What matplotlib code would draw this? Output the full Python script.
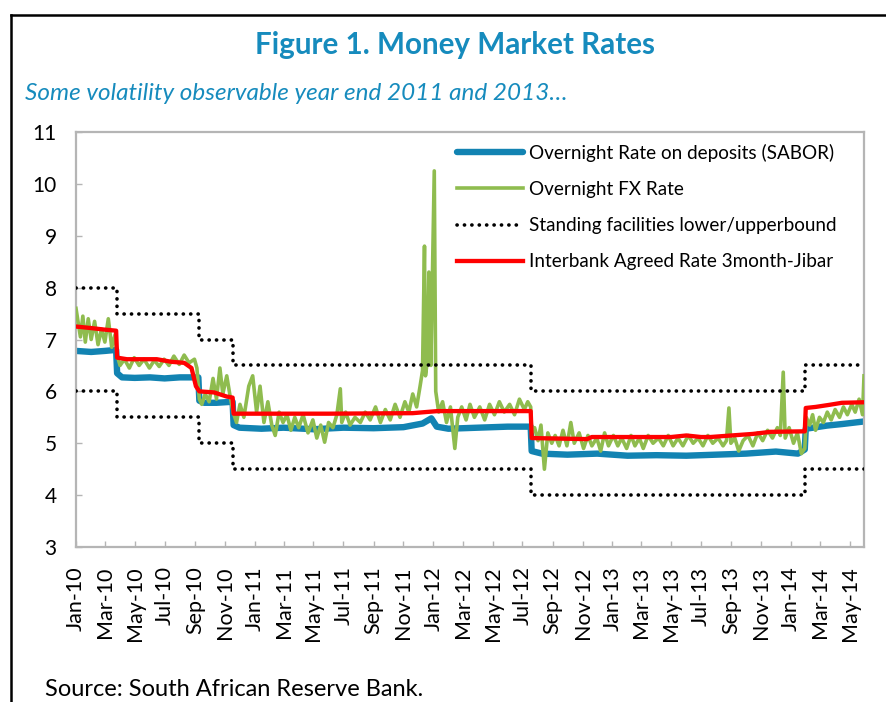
import pandas as pd
import matplotlib
matplotlib.use("Agg")
import matplotlib.pyplot as plt
import matplotlib.dates as mdates
from matplotlib.lines import Line2D

plt.rcParams["font.family"] = ["Lato", "DejaVu Sans"]

colours = {
    "sabor": "#1283b2",
    "fx": "#8fbc4f",
    "bound": "#000000",
    "jibar": "#ff0000",
    "title": "#168bbd",
    "axis": "#b5b5b5",
}

# overnight rate on deposits (SABOR)
sabor_dates = [
    "2010-01-01", "2010-02-01", "2010-03-01", "2010-03-24", "2010-03-26", "2010-04-05",
    "2010-05-01", "2010-06-01", "2010-07-01", "2010-08-01", "2010-09-08", "2010-09-10",
    "2010-09-20", "2010-10-15", "2010-11-17", "2010-11-19", "2010-12-01", "2011-01-15",
    "2011-03-01", "2011-05-01", "2011-07-01", "2011-09-01", "2011-11-01", "2011-12-10",
    "2011-12-28", "2012-01-08", "2012-02-01", "2012-04-01", "2012-06-01", "2012-07-18",
    "2012-07-20", "2012-08-10", "2012-10-01", "2012-12-01", "2013-02-01", "2013-04-01",
    "2013-06-01", "2013-08-01", "2013-10-01", "2013-12-01", "2014-01-15", "2014-01-29",
    "2014-01-31", "2014-02-15", "2014-03-15", "2014-04-15", "2014-05-30",
]
sabor_vals = [
    6.78, 6.76, 6.78, 6.80, 6.35, 6.27,
    6.26, 6.27, 6.25, 6.27, 6.27, 5.82,
    5.78, 5.78, 5.80, 5.35, 5.30, 5.28,
    5.30, 5.27, 5.30, 5.29, 5.31, 5.38,
    5.48, 5.32, 5.28, 5.30, 5.32, 5.32,
    4.85, 4.80, 4.78, 4.80, 4.76, 4.77,
    4.76, 4.78, 4.80, 4.84, 4.80, 4.88,
    5.28, 5.30, 5.34, 5.37, 5.42,
]

# overnight FX rate
fx_dates = [
    "2010-01-01", "2010-01-10", "2010-01-15", "2010-01-20", "2010-01-26", "2010-02-01",
    "2010-02-08", "2010-02-15", "2010-02-22", "2010-03-01", "2010-03-08", "2010-03-15",
    "2010-03-22", "2010-03-26", "2010-04-01", "2010-04-10", "2010-04-20", "2010-04-30",
    "2010-05-10", "2010-05-20", "2010-05-31", "2010-06-10", "2010-06-20", "2010-06-30",
    "2010-07-10", "2010-07-20", "2010-07-31", "2010-08-10", "2010-08-20", "2010-08-31",
    "2010-09-05", "2010-09-10", "2010-09-15", "2010-09-22", "2010-09-30", "2010-10-08",
    "2010-10-15", "2010-10-22", "2010-10-28", "2010-11-05", "2010-11-12", "2010-11-18",
    "2010-11-25", "2010-12-02", "2010-12-10", "2010-12-20", "2010-12-28",
    "2011-01-05", "2011-01-12", "2011-01-20", "2011-01-28", "2011-02-05", "2011-02-12",
    "2011-02-20", "2011-02-28", "2011-03-08", "2011-03-16", "2011-03-24", "2011-04-01",
    "2011-04-10", "2011-04-20", "2011-04-30", "2011-05-08", "2011-05-16", "2011-05-24",
    "2011-06-01", "2011-06-10", "2011-06-18", "2011-06-25", "2011-06-28", "2011-07-06",
    "2011-07-15", "2011-07-25", "2011-08-05", "2011-08-15", "2011-08-25", "2011-09-05",
    "2011-09-15", "2011-09-25", "2011-10-05", "2011-10-15", "2011-10-25", "2011-11-04",
    "2011-11-12", "2011-11-20", "2011-11-28", "2011-12-05", "2011-12-10", "2011-12-14",
    "2011-12-16", "2011-12-20", "2011-12-23", "2011-12-27",
    "2012-01-03", "2012-01-06", "2012-01-12", "2012-01-20", "2012-01-28", "2012-02-05",
    "2012-02-14", "2012-02-20", "2012-02-28", "2012-03-08", "2012-03-16", "2012-03-25",
    "2012-04-05", "2012-04-15", "2012-04-25", "2012-05-05", "2012-05-15", "2012-05-25",
    "2012-06-05", "2012-06-15", "2012-06-25", "2012-07-05", "2012-07-12", "2012-07-18",
    "2012-07-20", "2012-07-26", "2012-08-02", "2012-08-08", "2012-08-15", "2012-08-22",
    "2012-08-30", "2012-09-06", "2012-09-14", "2012-09-22", "2012-09-30", "2012-10-08",
    "2012-10-15", "2012-10-25", "2012-11-03", "2012-11-12", "2012-11-20", "2012-11-30",
    "2012-12-08", "2012-12-16", "2012-12-24",
    "2013-01-03", "2013-01-12", "2013-01-20", "2013-01-30", "2013-02-08", "2013-02-16",
    "2013-02-25", "2013-03-05", "2013-03-15", "2013-03-25", "2013-04-05", "2013-04-15",
    "2013-04-25", "2013-05-05", "2013-05-15", "2013-05-25", "2013-06-05", "2013-06-15",
    "2013-06-25", "2013-07-05", "2013-07-15", "2013-07-25", "2013-08-05", "2013-08-15",
    "2013-08-22", "2013-08-27", "2013-08-31", "2013-09-08", "2013-09-16", "2013-09-25",
    "2013-10-05", "2013-10-15", "2013-10-25", "2013-11-04", "2013-11-14", "2013-11-24",
    "2013-12-04", "2013-12-10", "2013-12-16", "2013-12-20", "2013-12-28",
    "2014-01-06", "2014-01-14", "2014-01-22", "2014-01-29", "2014-02-01", "2014-02-08",
    "2014-02-14", "2014-02-20", "2014-02-28", "2014-03-08", "2014-03-16", "2014-03-24",
    "2014-04-01", "2014-04-10", "2014-04-18", "2014-04-26", "2014-05-05", "2014-05-12",
    "2014-05-20", "2014-05-27", "2014-05-30",
]
fx_vals = [
    7.60, 7.05, 7.45, 6.95, 7.40, 7.00,
    7.35, 6.90, 7.20, 6.95, 7.40, 6.85,
    7.10, 6.70, 6.50, 6.62, 6.45, 6.65,
    6.50, 6.62, 6.45, 6.60, 6.48, 6.62,
    6.50, 6.68, 6.52, 6.70, 6.55, 6.62,
    6.45, 5.85, 5.75, 5.95, 5.80, 6.25,
    5.85, 6.45, 5.95, 6.30, 5.90, 5.60,
    5.40, 5.75, 5.50, 6.10, 6.30,
    5.60, 6.10, 5.40, 5.80, 5.35, 5.15,
    5.60, 5.40, 5.55, 5.25, 5.50, 5.30,
    5.55, 5.20, 5.45, 5.10, 5.35, 5.02,
    5.40, 5.30, 5.55, 6.05, 5.40, 5.60,
    5.35, 5.50, 5.40, 5.60, 5.45, 5.70,
    5.40, 5.65, 5.45, 5.75, 5.50, 5.80,
    5.60, 5.95, 5.70, 6.10, 6.40, 8.80,
    6.30, 6.60, 8.30, 6.50,
    10.25, 6.00, 5.60, 5.80, 5.40, 5.70,
    4.90, 5.50, 5.70, 5.45, 5.75, 5.50,
    5.70, 5.45, 5.75, 5.55, 5.80, 5.60,
    5.75, 5.55, 5.85, 5.65, 5.80, 5.70,
    5.20, 5.30, 5.05, 5.35, 4.50, 5.20,
    5.00, 5.15, 4.95, 5.25, 4.95, 5.40,
    5.00, 5.20, 4.90, 5.15, 4.95, 5.10,
    4.85, 5.20, 4.95,
    5.15, 4.95, 5.10, 4.90, 5.15, 4.95,
    5.10, 4.90, 5.15, 5.00, 5.10, 4.95,
    5.15, 4.95, 5.10, 4.95, 5.15, 5.00,
    5.10, 4.95, 5.15, 5.00, 5.10, 4.95,
    5.05, 5.68, 5.00, 5.10, 4.85, 5.05,
    5.15, 4.95, 5.20, 5.05, 5.25, 5.10,
    5.30, 5.15, 6.37, 5.10, 5.30,
    5.00, 5.20, 4.80, 4.90, 5.50, 5.35,
    5.55, 5.25, 5.50, 5.40, 5.60, 5.45,
    5.65, 5.50, 5.70, 5.55, 5.75, 5.60,
    5.85, 5.55, 6.30,
]

# standing facilities lower/upper bound (steps on policy dates)
bound_dates = ["2010-01-01", "2010-03-25", "2010-09-09", "2010-11-18",
               "2012-07-19", "2014-01-30", "2014-05-30"]
upper_vals = [8.0, 7.5, 7.0, 6.5, 6.0, 6.5, 6.5]
lower_vals = [6.0, 5.5, 5.0, 4.5, 4.0, 4.5, 4.5]

# interbank agreed rate 3month-Jibar
jibar_dates = [
    "2010-01-01", "2010-02-01", "2010-03-01", "2010-03-24", "2010-03-26", "2010-04-15",
    "2010-06-15", "2010-07-15", "2010-08-10", "2010-08-25", "2010-09-03", "2010-09-10",
    "2010-10-10", "2010-11-05", "2010-11-17", "2010-11-19", "2011-06-01", "2011-11-20",
    "2011-12-15", "2012-01-10", "2012-07-18", "2012-07-20", "2012-11-10", "2012-11-20",
    "2013-05-01", "2013-06-01", "2013-07-01", "2013-07-20", "2013-09-01", "2013-10-15",
    "2013-11-20", "2014-01-29", "2014-01-31", "2014-02-20", "2014-03-20", "2014-04-15",
    "2014-05-30",
]
jibar_vals = [
    7.25, 7.22, 7.19, 7.17, 6.65, 6.62,
    6.62, 6.57, 6.55, 6.45, 6.10, 6.00,
    5.98, 5.90, 5.88, 5.57, 5.57, 5.58,
    5.60, 5.62, 5.62, 5.10, 5.08, 5.12,
    5.12, 5.15, 5.12, 5.12, 5.15, 5.18,
    5.22, 5.23, 5.68, 5.70, 5.74, 5.78,
    5.79,
]

tick_dates = pd.date_range("2010-01-01", "2014-05-01", freq="2MS")

fig = plt.figure(figsize=(8.86, 7.02), dpi=100)
ax = fig.add_axes([76 / 886, 1 - 547 / 702, 788 / 886, 415 / 702])

dots = (0, (0.05, 2.0))
ax.plot(pd.to_datetime(sabor_dates), sabor_vals, color=colours["sabor"], lw=4.6,
        solid_capstyle="round", solid_joinstyle="round",
        label="Overnight Rate on deposits (SABOR)", zorder=2)
ax.plot(pd.to_datetime(fx_dates), fx_vals, color=colours["fx"], lw=2.6,
        solid_joinstyle="round", label="Overnight FX Rate", zorder=3)
ax.plot(pd.to_datetime(bound_dates), upper_vals, color=colours["bound"], lw=2.6,
        ls=dots, dash_capstyle="round", drawstyle="steps-post",
        label="Standing facilities lower/upperbound", zorder=4)
ax.plot(pd.to_datetime(bound_dates), lower_vals, color=colours["bound"], lw=2.6,
        ls=dots, dash_capstyle="round", drawstyle="steps-post", zorder=4)
ax.plot(pd.to_datetime(jibar_dates), jibar_vals, color=colours["jibar"], lw=3.1,
        label="Interbank Agreed Rate 3month-Jibar", zorder=5)

ax.set_xlim(pd.Timestamp("2010-01-01"), pd.Timestamp("2014-05-30"))
ax.set_ylim(3, 11)
ax.set_yticks(range(3, 12))
ax.set_xticks(tick_dates)
ax.xaxis.set_major_formatter(mdates.DateFormatter("%b-%y"))
ax.tick_params(axis="x", direction="in", length=4, width=1, color=colours["axis"],
               labelsize=15.5, labelrotation=90, pad=14)
ax.tick_params(axis="y", direction="in", length=4, width=1, color=colours["axis"],
               labelsize=15, pad=14)
for s in ax.spines.values():
    s.set_color(colours["axis"])
    s.set_linewidth(1.6)

ax.legend(loc="upper left", bbox_to_anchor=(0.483, 0.972), frameon=False,
          fontsize=13.6, handlelength=3.5, handletextpad=0.35, labelspacing=1.02,
          borderpad=0, borderaxespad=0)

# titles and source
fig.text(455 / 886, 1 - 45 / 702, "Figure 1. Money Market Rates", ha="center",
         va="center", fontsize=21.3, fontweight="bold", color=colours["title"])
fig.text(25 / 886, 1 - 93 / 702, "Some volatility observable year end 2011 and 2013…",
         ha="left", va="center", fontsize=17.5, style="italic", color=colours["title"])
fig.text(45 / 886, 1 - 690 / 702, "Source: South African Reserve Bank.", ha="left",
         va="center", fontsize=17, color="black")

# outer frame (top and left edges)
fig.add_artist(Line2D([11 / 886, 1], [1 - 15 / 702, 1 - 15 / 702], color="black",
                      lw=1.8, transform=fig.transFigure))
fig.add_artist(Line2D([11 / 886, 11 / 886], [0, 1 - 15 / 702], color="black",
                      lw=1.8, transform=fig.transFigure))

fig.savefig("out.png", dpi=100)
